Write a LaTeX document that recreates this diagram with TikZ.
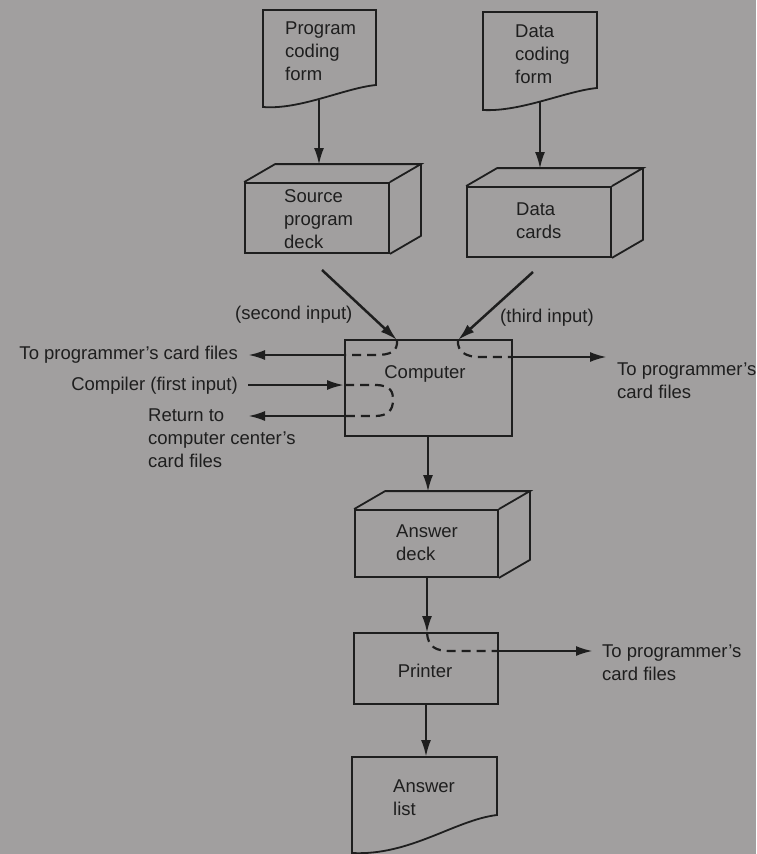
\documentclass[tikz,border=0pt]{standalone}
\usepackage{fontspec}
\setmainfont{Liberation Sans}
\usetikzlibrary{arrows.meta}
\definecolor{paper}{RGB}{161,159,159}
\definecolor{ink}{RGB}{30,30,30}

\begin{document}
\begin{tikzpicture}[x=1pt,y=-1pt,
  box/.style={draw=ink, line width=1.8pt, inner sep=0pt},
  flow/.style={draw=ink, line width=2.5pt, -{Latex[length=17pt,width=10pt]}},
  route/.style={draw=ink, line width=2.2pt, dash pattern=on 9pt off 6pt},
  lbl/.style={text=ink, font=\fontsize{18.5}{23}\selectfont, inner sep=0pt, align=left},
  depth/.style={shift={(31,-18)}},
]
\fill[paper] (0,0) rectangle (756,854);
\useasboundingbox (0,0) rectangle (756,854);

% ---- document shapes (wavy bottom edge)
\draw[box] (263,10) -- (376,10) -- (376,85)
  .. controls (345,88) and (300,110) .. (263,107) -- cycle;
\draw[box] (483,12) -- (597,12) -- (597,88)
  .. controls (566,91) and (521,112) .. (483,110) -- cycle;
\draw[box] (352,757) -- (497,757) -- (497,815)
  .. controls (455,820) and (410,856) .. (352,853) -- cycle;

\node[lbl, anchor=north west] (pform) at (285,22) {Program\\coding\\form};
\node[lbl, anchor=north west] (dform) at (515,25) {Data\\coding\\form};
\node[lbl, anchor=north west] (alist) at (393,780) {Answer\\list};

% ---- card decks (boxes with top and side faces)
\node[box, minimum width=144pt, minimum height=70pt] (src) at (317,218) {};
\node[box, minimum width=144pt, minimum height=70pt] (dat) at (539,222) {};
\node[box, minimum width=143pt, minimum height=67pt] (ans) at (426.5,543.5) {};
\foreach \d in {src,dat,ans}{
  \draw[box] (\d.north west) -- ([depth]\d.north west) -- ([depth]\d.north east)
    -- (\d.north east)
    ([depth]\d.north east) -- ([depth]\d.south east) -- (\d.south east);
}
\node[lbl, anchor=north west] at (284,189) {Source\\program\\deck};
\node[lbl, anchor=north west] at (516,203) {Data\\cards};
\node[lbl, anchor=north west] at (396,525) {Answer\\deck};

% ---- computer and printer
\node[box, minimum width=167pt, minimum height=96pt] (comp) at (428.5,388) {};
\node[lbl] at (425,374) {Computer};
\node[box, minimum width=144pt, minimum height=71pt] (prn) at (426,668.5) {};
\node[lbl] at (425,671) {Printer};

% ---- connector end points
\coordinate (pf-out) at (319,100);
\coordinate (src-in) at (319,165);
\coordinate (df-out) at (540,101);
\coordinate (dat-in) at (540,169);
\coordinate (src-out) at (322,270);
\coordinate (dat-out) at (533,272);
\coordinate (c-in2) at (397,340);
\coordinate (c-in3) at (458,340);
\coordinate (c-out) at (428,436);
\coordinate (ans-in) at (428,492);
\coordinate (ans-out) at (427,577);
\coordinate (p-in) at (427,633);
\coordinate (p-out) at (426,704);
\coordinate (al-in) at (426,757);

\draw[flow] (pf-out) -- (src-in);
\draw[flow] (df-out) -- (dat-in);
\draw[flow] (src-out) -- (c-in2);
\draw[flow] (dat-out) -- (c-in3);
\draw[flow] (c-out) -- (ans-in);
\draw[flow] (ans-out) -- (p-in);
\draw[flow] (p-out) -- (al-in);

% ---- paths of the decks through the computer
\draw[route] (c-in2) .. controls (398,352) and (390,355) .. (375,355) -- (345,355);
\draw[route] (c-in3) .. controls (457,352) and (466,357) .. (480,357) -- (512,357);
\draw[route] (345,385) -- (375,385) .. controls (392,385) and (393,393) .. (393,400)
  .. controls (393,410) and (388,416) .. (375,416) -- (345,416);
\draw[route] (p-in) .. controls (428,647) and (436,651) .. (450,651) -- (498,651);

% ---- side labels and their arrows
\node[lbl, anchor=east] (l-prog) at (238,355) {To programmer's card files};
\node[lbl, anchor=east] (l-comp) at (238,386) {Compiler (first input)};
\node[lbl, anchor=north west] (l-ret) at (148,409) {Return to\\computer center's\\card files};
\node[lbl, anchor=west] at (235,315) {(second input)};
\node[lbl, anchor=west] at (500,318) {(third input)};
\node[lbl, anchor=north west] (r-prog) at (617,363) {To programmer's\\card files};
\node[lbl, anchor=north west] (r-prn) at (602,645) {To programmer's\\card files};

\coordinate (a1) at (248,355);
\coordinate (a2) at (248,385);
\coordinate (a3) at (248,416);
\draw[flow] (comp.west |- a1) -- (a1);
\draw[flow] (a2) -- (comp.west |- a2);
\draw[flow] (comp.west |- a3) -- (a3);
\draw[flow] (comp.east |- 0,357) -- (607,357);
\draw[flow] (prn.east |- 0,651) -- (593,651);
\end{tikzpicture}
\end{document}
